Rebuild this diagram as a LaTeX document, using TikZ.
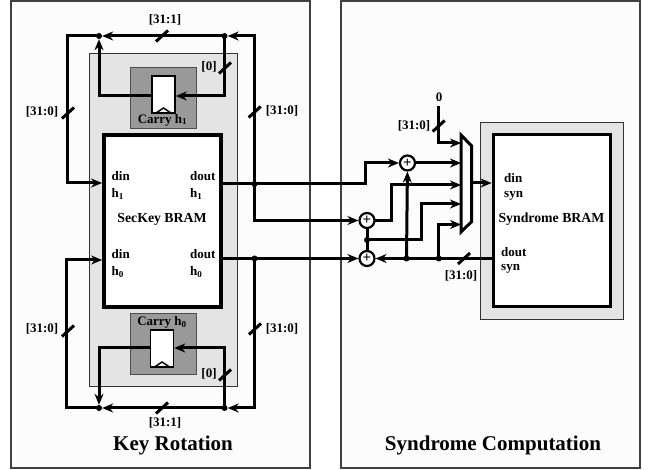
\documentclass[tikz,border=0pt]{standalone}
\usepackage{fontspec}
\setmainfont{Liberation Serif}
\usetikzlibrary{arrows.meta}
\definecolor{panelfill}{HTML}{FCFCFC}
\definecolor{lightfill}{HTML}{E4E4E4}
\definecolor{darkfill}{HTML}{999999}
\tikzset{
  wire/.style={line width=3pt, line cap=rect},
  panel/.style={draw=black!75, line width=1.2pt, fill=panelfill, inner sep=0},
  shell/.style={draw=black!80, line width=0.8pt, fill=lightfill, inner sep=0},
  carrybox/.style={draw=black!70, line width=0.8pt, fill=darkfill, inner sep=0, minimum width=66pt, minimum height=61pt},
  regbox/.style={draw, line width=1.6pt, fill=white, inner sep=0, minimum width=23pt, minimum height=37pt},
  bram/.style={draw, line width=3.8pt, fill=white, inner sep=0, minimum width=117pt, minimum height=172pt},
  dot/.style={circle, fill=black, inner sep=0, minimum size=6pt},
  adder/.style={draw, circle, line width=2.2pt, fill=white, inner sep=0, minimum size=15pt, font=\fontsize{15}{15}\selectfont\bfseries},
  lbl/.style={inner sep=0, font=\fontsize{13}{13}\selectfont\bfseries},
  bramlbl/.style={inner sep=0, font=\fontsize{13.8}{13.8}\selectfont\bfseries},
  title/.style={inner sep=0, font=\fontsize{21}{21}\selectfont\bfseries},
  slash/.pic={\draw [wire, line cap=butt] (-6,5.5) -- (6,-5.5);}
}
\begin{document}
\begin{tikzpicture}[x=1pt, y=-1pt, >={Stealth[length=11pt, width=9pt]}]
  \useasboundingbox (0,0) rectangle (651,470);
  % panels and boxes
  \node [panel, minimum width=299pt, minimum height=467pt] (keypanel) at (160.5,234.5) {};
  \node [panel, minimum width=299pt, minimum height=467pt] (synpanel) at (490.5,234.5) {};
  \node [shell, minimum width=148pt, minimum height=333pt] (keyshell) at (163,219.5) {};
  \node [shell, minimum width=143pt, minimum height=197pt] (synshell) at (551.5,220.5) {};
  \node [carrybox] (carrya) at (163,97.5) {};
  \node [carrybox] (carryb) at (163,343.5) {};
  \node [regbox] (rega) at (163.5,94.5) {};
  \node [regbox] (regb) at (162,348.5) {};
  \node [bram] (seckey) at (162.5,221) {};
  \node [bram] (synbram) at (552,220.5) {};
  \draw [line width=1.4pt] (156,113) -- (163.5,108) -- (171,113);
  \draw [line width=1.4pt] (154.5,367) -- (162,362) -- (169.5,367);
  % junctions
  \coordinate (topright) at (254.5,36);
  \coordinate (topleft) at (67,36);
  \coordinate (botright) at (254.5,408);
  \coordinate (botleft) at (66,408);
  \node [dot] (dotta) at (99,36) {};
  \node [dot] (dottb) at (224.5,36) {};
  \node [dot] (dotba) at (99,408) {};
  \node [dot] (dotbb) at (224.5,408) {};
  \node [dot] (dotra) at (254.5,184) {};
  \node [dot] (dotrb) at (254.5,258.5) {};
  \node [adder] (addc) at (407.5,163) {+};
  \node [adder] (adda) at (367,220.5) {+};
  \node [adder] (addb) at (367,258.5) {+};
  \node [dot] (dotm) at (367,240) {};
  \node [dot] (dotx) at (406.5,258.5) {};
  \node [dot] (doty) at (438.7,258.5) {};
  % mux
  \coordinate (muxa) at (461,135);
  \coordinate (muxb) at (471.7,146);
  \coordinate (muxc) at (471.7,221.5);
  \coordinate (muxd) at (461,232);
  \draw [wire, line cap=butt, fill=white, line join=miter] (muxa) -- (muxb) -- (muxc) -- (muxd) -- cycle;
  % top carry loop
  \draw [wire, ->] (topright) -- (dottb);
  \draw [wire, ->] (dottb) -- (dotta);
  \draw [wire, ->] (dotta) -- (topleft) |- (seckey.west |- 0,183);
  \draw [wire, ->] (dottb) |- (rega.east |- 0,96);
  \draw [wire, ->] (rega.west |- 0,96) -| (dotta);
  \draw [wire] (seckey.east |- 0,184) -- (dotra);
  \draw [wire] (topright) -- (dotra);
  \draw [wire, ->] (dotra) |- (adda);
  % bottom carry loop
  \draw [wire, ->] (botright) -- (dotbb);
  \draw [wire, ->] (dotbb) -- (dotba);
  \draw [wire, ->] (dotba) -- (botleft) |- (seckey.west |- 0,260);
  \draw [wire, ->] (dotbb) |- (regb.east |- 0,348);
  \draw [wire, ->] (regb.west |- 0,348) -| (dotba);
  \draw [wire] (seckey.east |- 0,258.5) -- (dotrb);
  \draw [wire] (dotrb) -- (botright);
  \draw [wire, ->] (dotrb) -- (addb);
  % syndrome side
  \coordinate (zero) at (438.7,108);
  \coordinate (stepa) at (365.5,184);
  \draw [wire, ->] (zero) |- (muxa |- 0,143);
  \draw [wire, ->] (dotra) -- (stepa) |- (addc);
  \draw [wire, ->] (addc) -- (muxa |- addc);
  \draw [wire, ->] (adda) -- (391,220.5) |- (muxa |- 0,185);
  \draw [wire, ->] (dotm) -- (421.7,240) |- (muxa |- 0,204);
  \draw [wire, ->] (doty) |- (muxa |- 0,224.5);
  \draw [wire] (adda) -- (dotm);
  \draw [wire] (dotm) -- (addb);
  \draw [wire, ->] (dotx) -- (addc);
  \draw [wire, ->] (muxb |- 0,183) -- (synbram.west |- 0,183);
  \draw [wire] (synbram.west |- 0,258.5) -- (doty);
  \draw [wire] (doty) -- (dotx);
  \draw [wire, ->] (dotx) -- (addb);
  % bus marks
  \pic at (162,36) {slash};
  \pic at (225,68) {slash};
  \pic at (68,113) {slash};
  \pic at (254.7,112) {slash};
  \pic at (68,331) {slash};
  \pic at (255,329) {slash};
  \pic at (225,375) {slash};
  \pic at (162,408) {slash};
  \pic at (438.7,126) {slash};
  \pic at (464,258.5) {slash};
  % labels
  \node [lbl] (busa) at (165,20) {[31:1]};
  \node [lbl] (busb) at (209,67) {[0]};
  \node [lbl] (busc) at (42,112) {[31:0]};
  \node [lbl] (busd) at (282,111) {[31:0]};
  \node [lbl] (buse) at (42,329) {[31:0]};
  \node [lbl] (busf) at (282,328.5) {[31:0]};
  \node [lbl] (busg) at (209,374) {[0]};
  \node [lbl] (bush) at (165,422.5) {[31:1]};
  \node [lbl] (busi) at (414,125.5) {[31:0]};
  \node [lbl] (busj) at (461,275.5) {[31:0]};
  \node [lbl] (zerotext) at (439,97) {0};
  \node [lbl] (carrytexta) at (162.5,120) {Carry h\textsubscript{1}};
  \node [lbl] (carrytextb) at (162,322) {Carry h\textsubscript{0}};
  \node [lbl, anchor=west] (dina) at (111.5,176.5) {din};
  \node [lbl, anchor=west] (hina) at (111.5,194) {h\textsubscript{1}};
  \node [lbl, anchor=west] (douta) at (190,176.5) {dout};
  \node [lbl, anchor=west] (houta) at (190,194) {h\textsubscript{1}};
  \node [bramlbl] (seckeytext) at (162,219) {SecKey BRAM};
  \node [lbl, anchor=west] (dinb) at (111.5,254) {din};
  \node [lbl, anchor=west] (hinb) at (111.5,272) {h\textsubscript{0}};
  \node [lbl, anchor=west] (doutb) at (190,254) {dout};
  \node [lbl, anchor=west] (houtb) at (190,272) {h\textsubscript{0}};
  \node [lbl, anchor=west] (dinc) at (504,178) {din};
  \node [lbl, anchor=west] (synin) at (504,196) {syn};
  \node [bramlbl] (syntext) at (551.5,219) {Syndrome BRAM};
  \node [lbl, anchor=west] (doutc) at (501,252) {dout};
  \node [lbl, anchor=west] (synout) at (501,269) {syn};
  \node [title] (keytitle) at (173,445) {Key Rotation};
  \node [title] (syntitle) at (493,445) {Syndrome Computation};
\end{tikzpicture}
\end{document}
